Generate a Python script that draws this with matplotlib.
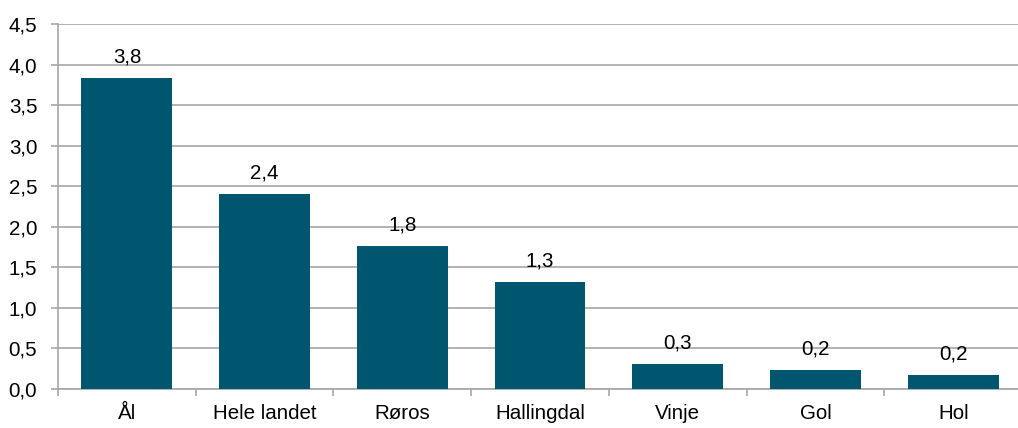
import numpy as np
import matplotlib.pyplot as plt
from matplotlib.ticker import FixedLocator, FuncFormatter

# Data
places = ["Ål", "Hele landet", "Røros", "Hallingdal", "Vinje", "Gol", "Hol"]
values = [3.84, 2.40, 1.76, 1.32, 0.31, 0.235, 0.17]

bar_color = "#00566f"
grid_color = "#a6a6a6"

plt.rcParams['font.family'] = ['Liberation Sans', 'DejaVu Sans']
plt.rcParams['font.size'] = 14.8

fig = plt.figure(figsize=(10.18, 4.28), dpi=100)
ax = fig.add_axes([0.057, 0.091, 0.947, 0.853])

x = np.arange(len(places))
ax.bar(x, values, width=0.66, color=bar_color, zorder=3)

# value labels above the bars
for xi, v in zip(x, values):
    ax.text(xi, v + 0.14, f"{v:.1f}".replace(".", ","), ha="center", va="bottom",
            zorder=4)

ax.set_xlim(-0.5, len(places) - 0.5)
ax.set_ylim(0, 4.5)
ax.set_yticks(np.arange(0, 4.51, 0.5))
ax.yaxis.set_major_formatter(FuncFormatter(lambda v, p: f"{v:.1f}".replace(".", ",")))
ax.grid(axis="y", color=grid_color, linewidth=1.2, zorder=0)

ax.set_xticks(x)
ax.set_xticklabels(places)
ax.tick_params(axis="x", length=0, pad=11)
ax.xaxis.set_minor_locator(FixedLocator(np.arange(-0.5, len(places), 1.0)))
ax.tick_params(axis="x", which="minor", length=5, color=grid_color, width=1.2)
ax.tick_params(axis="y", length=5, color=grid_color, width=1.2, pad=10)

for s in ["top", "right"]:
    ax.spines[s].set_visible(False)
for s in ["left", "bottom"]:
    ax.spines[s].set_color(grid_color)
    ax.spines[s].set_linewidth(1.2)

fig.savefig("out.png", dpi=100)
